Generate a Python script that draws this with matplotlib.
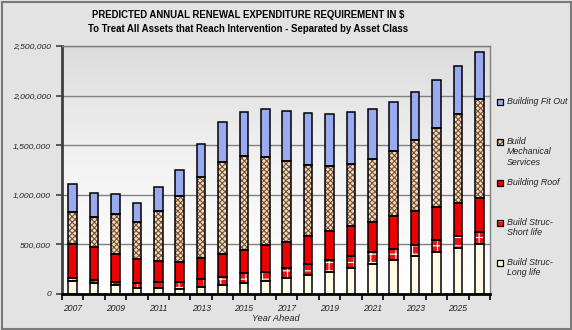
import matplotlib
matplotlib.use('Agg')
import matplotlib.pyplot as plt
import numpy as np
from matplotlib.patches import Rectangle
from matplotlib.colors import LinearSegmentedColormap
from matplotlib.ticker import FuncFormatter, FixedLocator

years = list(range(2007, 2027))
long_life = [134, 114, 88, 61, 57, 50, 74, 88, 111, 134, 158, 192, 226, 266, 300, 340, 384, 421, 465, 505]
short_life = [24, 27, 36, 47, 67, 74, 78, 87, 98, 91, 108, 111, 117, 121, 124, 115, 114, 121, 121, 118]
roof = [347, 331, 280, 242, 212, 196, 208, 226, 235, 270, 263, 283, 293, 300, 306, 333, 334, 333, 336, 343]
mech = [326, 303, 401, 374, 505, 663, 818, 929, 950, 886, 808, 717, 650, 623, 630, 649, 724, 802, 896, 1004]
fitout = [277, 242, 205, 192, 233, 270, 337, 401, 441, 485, 511, 522, 529, 522, 506, 499, 478, 478, 478, 471]

series = [
    ("Build Struc-\nLong life", np.array(long_life) * 1000),
    ("Build Struc-\nShort life", np.array(short_life) * 1000),
    ("Building Roof", np.array(roof) * 1000),
    ("Build\nMechanical\nServices", np.array(mech) * 1000),
    ("Building Fit Out", np.array(fitout) * 1000),
]
styles = [
    dict(face='#fffbe4', hatch=None, hc='#fffbe4', hw=0.8),
    dict(face='#ee1111', hatch='++', hc='white', hw=0.8),
    dict(face='#ee0000', hatch=None, hc='#ee0000', hw=0.8),
    dict(face='#eedcc4', hatch='xxxxxx', hc='#7a5030', hw=0.8),
    dict(face='#9aaaf0', hatch=None, hc='#9aaaf0', hw=0.8),
]

plt.rcParams['font.family'] = ['Liberation Sans', 'DejaVu Sans']
plt.rcParams['hatch.linewidth'] = 0.8

W, H = 572, 330
fig = plt.figure(figsize=(W / 100, H / 100), dpi=100)
fig.patch.set_facecolor('#e3e3e3')
fig.patches.append(Rectangle((1.5 / W, 1.5 / H), 1 - 3 / W, 1 - 3 / H, transform=fig.transFigure,
                             fill=False, edgecolor='#7a7a7a', lw=1.5))

ax = fig.add_axes([62 / W, 1 - 294 / H, (490 - 62) / W, (294 - 46) / H])
x = np.arange(len(years))

cmap = LinearSegmentedColormap.from_list('g', ['#ffffff', '#f4f4f4', '#dcdcdc'])
grad = np.linspace(0, 1, 256).reshape(-1, 1)
ax.imshow(grad, cmap=cmap, origin='lower', extent=[0, 1, 0, 1], transform=ax.transAxes,
          aspect='auto', zorder=-2)

bottom = np.zeros(len(years))
width = 0.4
for (name, vals), st in zip(series, styles):
    ax.bar(x, vals, width, bottom=bottom, color=st['face'], hatch=st['hatch'],
           edgecolor=st['hc'], linewidth=0, zorder=2)
    ax.bar(x, vals, width, bottom=bottom, fill=False, edgecolor='black', linewidth=1.1, zorder=3)
    bottom = bottom + vals

ax.set_xlim(-0.5, len(years) - 0.5)
ax.set_ylim(0, 2500000)
ax.set_yticks(np.arange(0, 2500001, 500000))
ax.yaxis.set_major_formatter(FuncFormatter(lambda v, p: f"{int(v):,}"))
ax.yaxis.grid(True, color='#808080', lw=1.0, zorder=-1)
ax.set_axisbelow(True)

ax.set_xticks(x[::2])
ax.set_xticklabels([str(y) for y in years[::2]])
ax.xaxis.set_minor_locator(FixedLocator(np.arange(-0.5, len(years), 1.0)))
ax.tick_params(axis='x', which='major', length=0, pad=7)
ax.tick_params(axis='x', which='minor', length=4, width=1.2, direction='out', color='black')
ax.tick_params(axis='y', length=4, width=1.2, direction='out', color='#404040', pad=4)
for lab in ax.get_xticklabels():
    lab.set_fontsize(6.2)
    lab.set_fontstyle('italic')
    lab.set_color('#222222')
for lab in ax.get_yticklabels():
    lab.set_fontsize(6.1)
    lab.set_fontstyle('italic')
    lab.set_color('#222222')

for s in ['top', 'right']:
    ax.spines[s].set_color('#808080')
    ax.spines[s].set_linewidth(1.0)
ax.spines['left'].set_color('#404040')
ax.spines['left'].set_linewidth(2.0)
ax.spines['bottom'].set_color('black')
ax.spines['bottom'].set_linewidth(2.0)

ax.set_xlabel('Year Ahead', fontsize=6.6, fontstyle='italic', color='#222222', labelpad=1)

fig.text(248 / W, 1 - 15 / H, 'PREDICTED ANNUAL RENEWAL EXPENDITURE REQUIREMENT IN $',
         ha='center', va='center', fontsize=6.9, fontweight='bold', color='black')
fig.text(248 / W, 1 - 29 / H, 'To Treat All Assets that Reach Intervention - Separated by Asset Class',
         ha='center', va='center', fontsize=6.9, fontweight='bold', color='black')

# legend
leg_y = {"Building Fit Out": 101.7, "Build\nMechanical\nServices": 141.7, "Building Roof": 182.7,
         "Build Struc-\nShort life": 222.7, "Build Struc-\nLong life": 262.7}
for (name, vals), st in zip(series, styles):
    yc = leg_y[name]
    s = 6
    r1 = Rectangle((497 / W, 1 - (yc + s / 2) / H), s / W, s / H, transform=fig.transFigure,
                   facecolor=st['face'], hatch=st['hatch'], edgecolor=st['hc'], lw=0, zorder=5)
    r2 = Rectangle((497 / W, 1 - (yc + s / 2) / H), s / W, s / H, transform=fig.transFigure,
                   fill=False, edgecolor='black', lw=0.9, zorder=6)
    fig.add_artist(r1)
    fig.add_artist(r2)
    fig.text(507 / W, 1 - (yc - 5.0) / H, name, ha='left', va='top', fontsize=6.4,
             fontstyle='italic', color='#222222', linespacing=1.25)

fig.savefig('out.png', dpi=100, facecolor=fig.get_facecolor())
